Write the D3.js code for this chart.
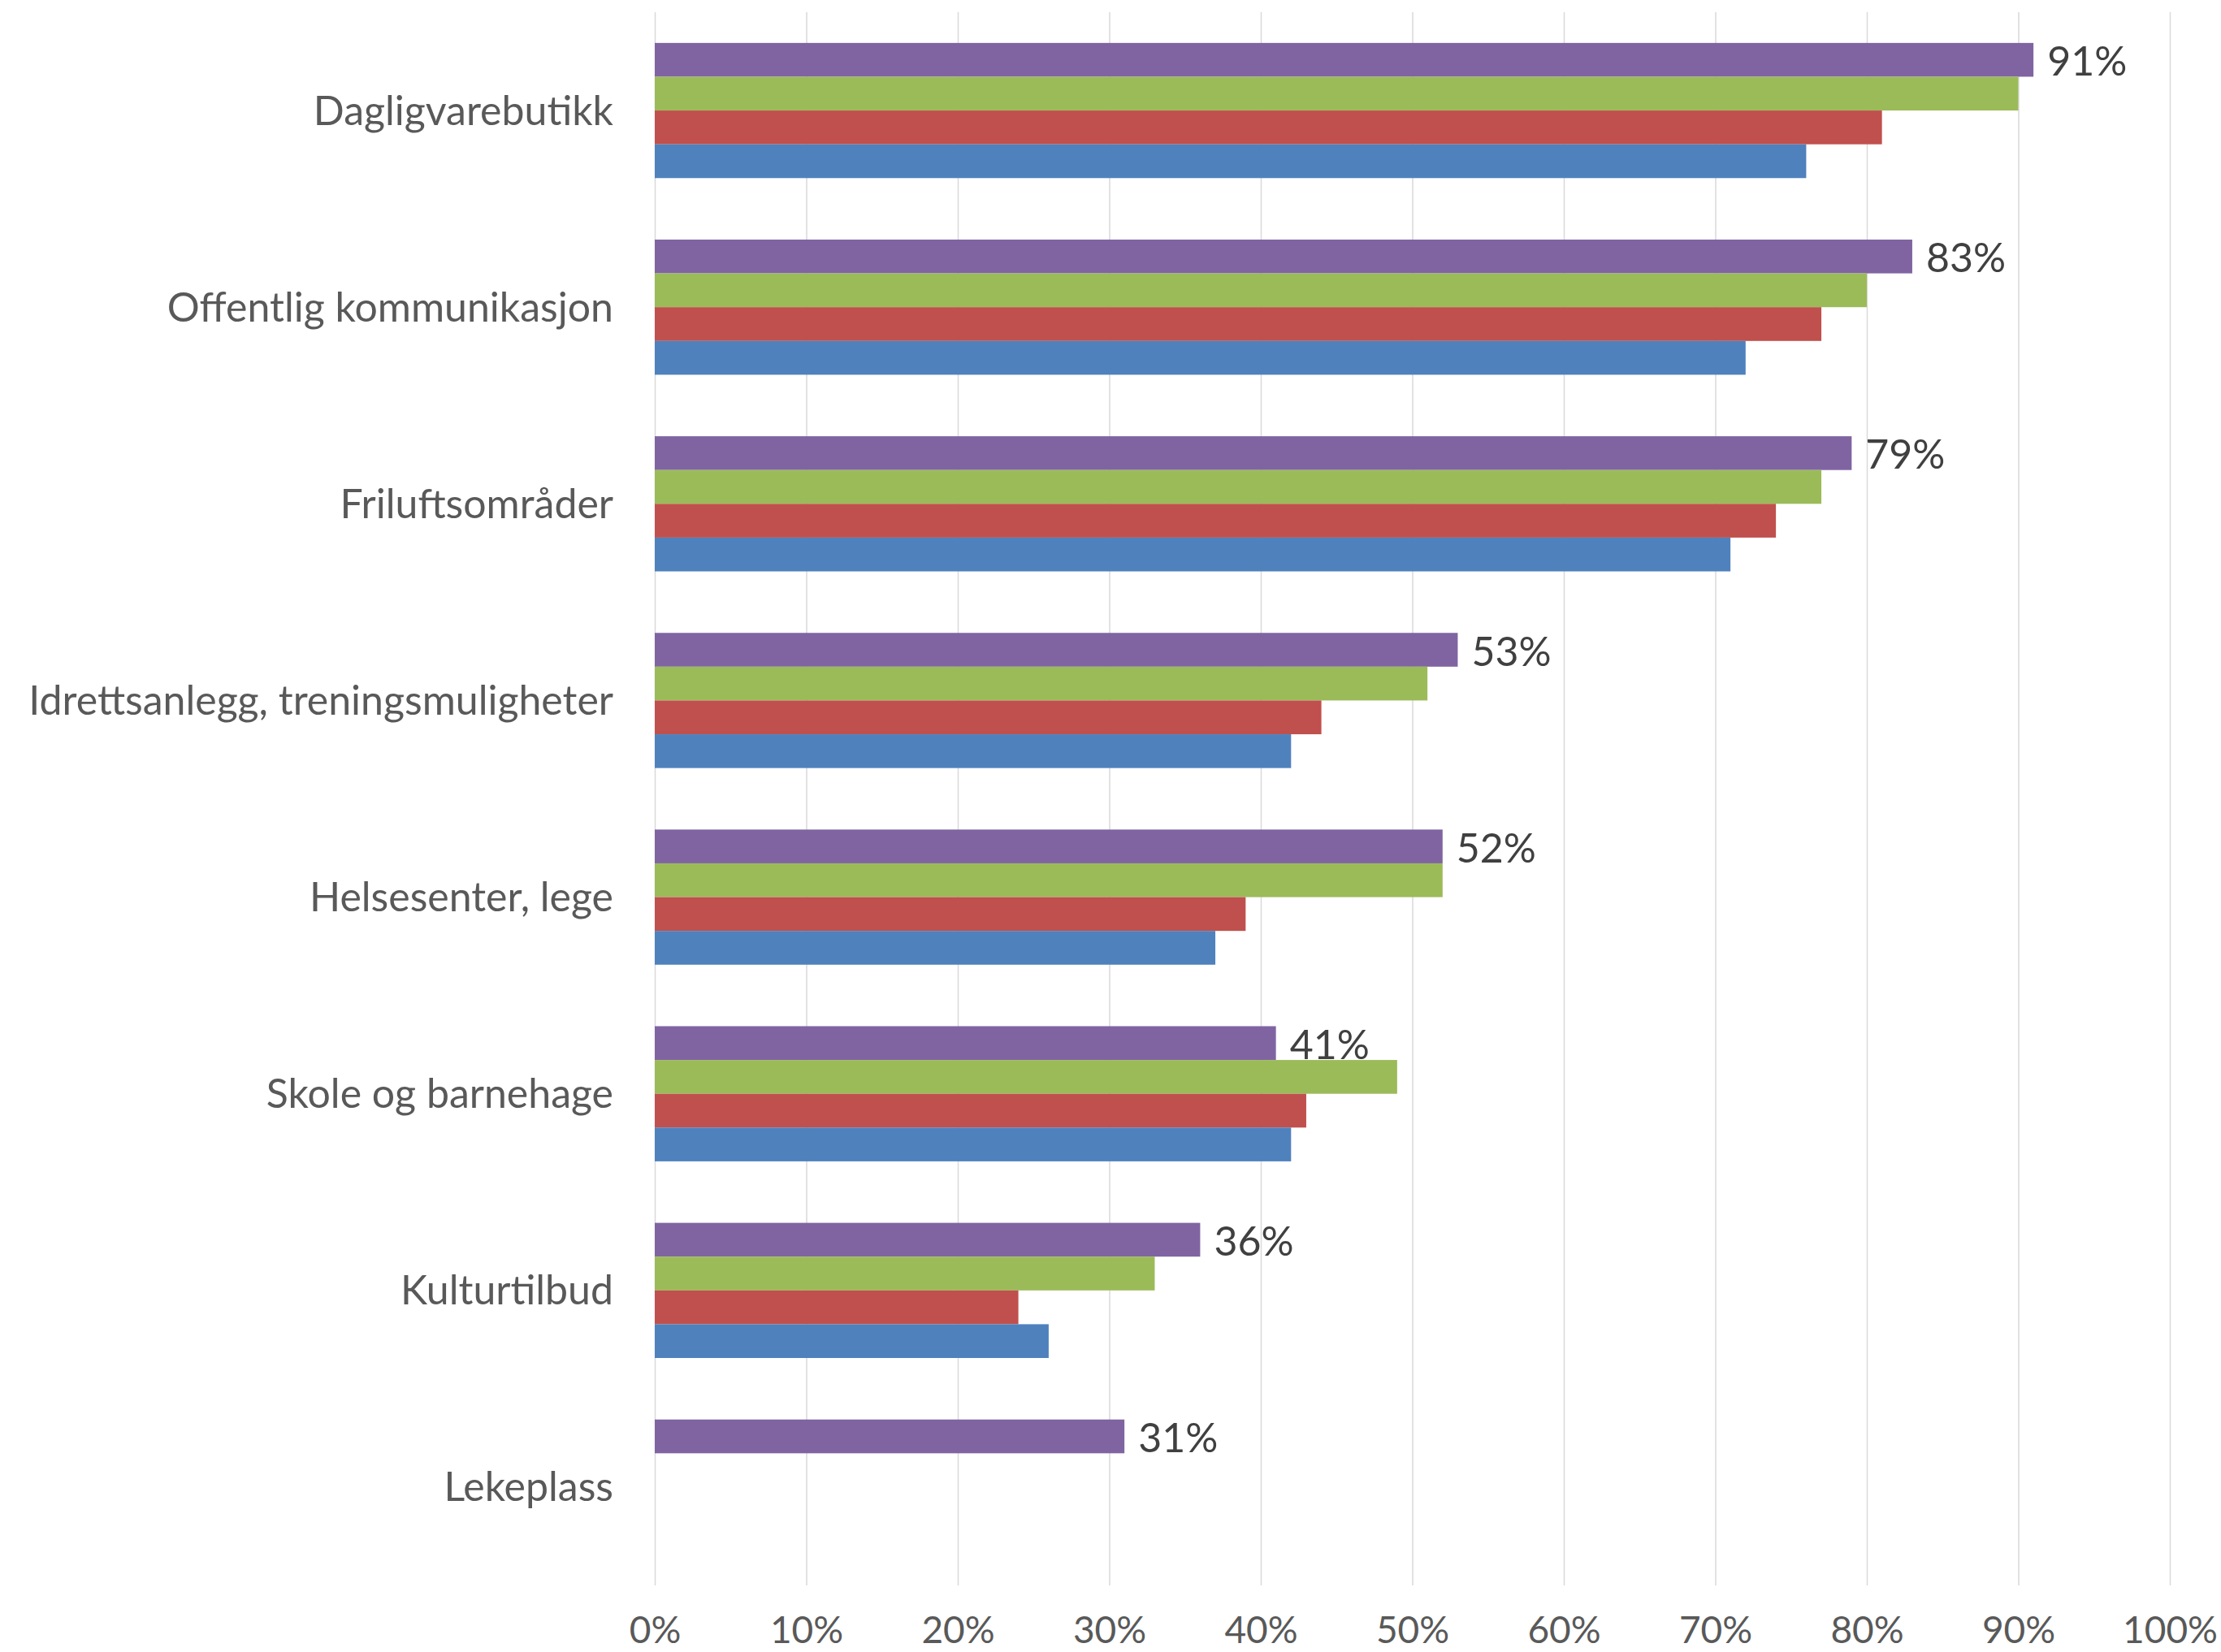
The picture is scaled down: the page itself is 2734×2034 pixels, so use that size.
<!DOCTYPE html>
<html>
<head>
<meta charset="utf-8">
<script src="https://cdn.jsdelivr.net/npm/d3@7"></script>
<style>
    body { margin: 0; background: #fff; }
    text { font-family: Lato, "Open Sans", sans-serif; }
</style>
</head>
<body>
<div id="chart"></div>
<script>
// categories, top to bottom
var categories = [
    "Dagligvarebutikk",
    "Offentlig kommunikasjon",
    "Friluftsområder",
    "Idrettsanlegg, treningsmuligheter",
    "Helsesenter, lege",
    "Skole og barnehage",
    "Kulturtilbud",
    "Lekeplass"
];

// series values (percent); null = no bar
var seriesBlue   = [76, 72, 71, 42, 37, 42, 26, null];
var seriesRed    = [81, 77, 74, 44, 39, 43, 24, null];
var seriesGreen  = [90, 80, 77, 51, 52, 49, 33, null];
var seriesPurple = [91, 83, 79, 53, 52, 41, 36, 31];

var xTicks = [0, 10, 20, 30, 40, 50, 60, 70, 80, 90, 100];

// drawn top to bottom inside each group
var series = [
    { key: "purple", color: "#8064A2", values: seriesPurple },
    { key: "green",  color: "#9BBB59", values: seriesGreen },
    { key: "red",    color: "#C0504D", values: seriesRed },
    { key: "blue",   color: "#4F81BD", values: seriesBlue }
];

var width = 2734, height = 2034;
var plotLeft = 806, plotRight = 2671, plotTop = 15, plotBottom = 1952;

var svg = d3.select("#chart")
    .append("svg")
    .attr("width", width)
    .attr("height", height);

var x = d3.scaleLinear().domain([0, 100]).range([plotLeft, plotRight]);

var y = d3.scaleBand()
    .domain(categories)
    .range([plotTop, plotBottom])
    .padding(0);

var ySeries = d3.scaleBand()
    .domain(series.map(function (s) { return s.key; }))
    .range([0, y.bandwidth()])
    .paddingInner(0)
    .paddingOuter(0.91);

// gridlines + tick labels
var xAxis = d3.axisBottom(x)
    .tickValues(xTicks)
    .tickSize(-(plotBottom - plotTop))
    .tickFormat(function (d) { return d + "%"; });

var axisG = svg.append("g")
    .attr("transform", "translate(0," + plotBottom + ")")
    .call(xAxis);

axisG.select(".domain").remove();
axisG.selectAll(".tick line")
    .attr("stroke", "#d9d9d9")
    .attr("stroke-width", 1.5);
axisG.selectAll(".tick text")
    .attr("y", 71)
    .attr("dy", 0)
    .attr("fill", "#595959")
    .style("font-size", "46px");

// category labels
svg.append("g")
    .selectAll("text")
    .data(categories)
    .enter().append("text")
    .attr("x", 755)
    .attr("y", function (d) { return y(d) + y.bandwidth() / 2; })
    .attr("dy", "0.35em")
    .attr("text-anchor", "end")
    .attr("fill", "#595959")
    .style("font-size", "50px")
    .text(function (d) { return d; });

// bars
var groups = svg.append("g")
    .selectAll("g")
    .data(series)
    .enter().append("g")
    .attr("fill", function (s) { return s.color; });

groups.selectAll("rect")
    .data(function (s) {
        return categories.map(function (c, i) {
            return { cat: c, key: s.key, value: s.values[i] };
        }).filter(function (d) { return d.value !== null; });
    })
    .enter().append("rect")
    .attr("x", x(0))
    .attr("y", function (d) { return y(d.cat) + ySeries(d.key); })
    .attr("width", function (d) { return x(d.value) - x(0); })
    .attr("height", ySeries.bandwidth());

// data labels on the top series
svg.append("g")
    .selectAll("text")
    .data(categories.map(function (c, i) {
        return { cat: c, value: seriesPurple[i] };
    }))
    .enter().append("text")
    .attr("x", function (d) { return x(d.value) + 17; })
    .attr("y", function (d) { return y(d.cat) + ySeries("purple") + ySeries.bandwidth() / 2 + 2; })
    .attr("dy", "0.35em")
    .attr("fill", "#404040")
    .style("font-size", "50px")
    .text(function (d) { return d.value + "%"; });
</script>
</body>
</html>
